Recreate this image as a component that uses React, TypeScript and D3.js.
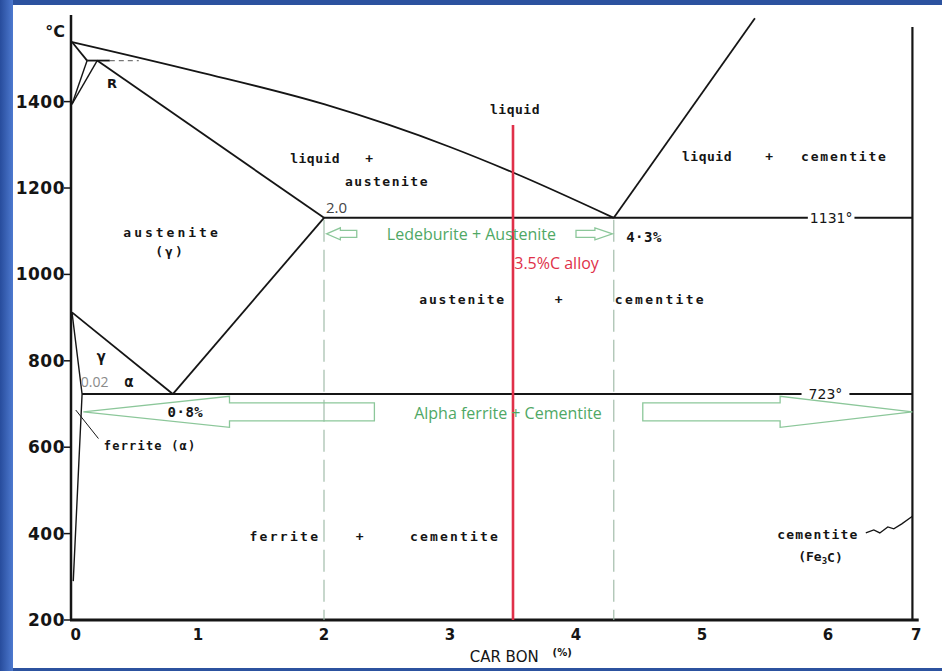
import React from "react";
import * as d3 from "d3";

// ---------- data (carbon %, temperature °C) ----------
const liquidusC = [0, 1.0, 2.0, 3.0, 3.5, 4.3];
const liquidusT = [1538, 1469, 1394, 1295, 1236, 1131];
const hyperLiquidusC = [4.3, 5.42];
const hyperLiquidusT = [1131, 1593];
const solidusC = [0.2, 2.0];
const solidusT = [1495, 1131];
const acmC = [0.8, 2.0];
const acmT = [723, 1131];
const a3C = [0, 0.8];
const a3T = [912, 723];
const ferriteC = [0, 0.08, 0.01];
const ferriteT = [912, 723, 290];
const deltaUpperC = [0, 0.12];
const deltaUpperT = [1538, 1495];
const deltaLowerC = [0, 0.12];
const deltaLowerT = [1394, 1495];
const deltaGammaC = [0, 0.2];
const deltaGammaT = [1394, 1495];
const peritecticSolidC = [0.12, 0.3];
const peritecticDashC = [0.3, 0.53];
const peritecticT = 1495;
const eutecticT = 1131;
const eutecticC = [2.0, 6.67];
const eutecticGapC = [5.84, 6.21];
const eutectoidT = 723;
const eutectoidC = [0.08, 6.67];
const eutectoidGapC = [5.79, 6.17];
const cementiteC = 6.67;
const cementiteTopT = 1573;
const alloyC = 3.5;
const alloyTopT = 1346;
const guideC = [2.0, 4.3];

const yTicks = [200, 400, 600, 800, 1000, 1200, 1400];
const xTicks = [0, 1, 2, 3, 4, 5, 6, 7];

// ---------- layout ----------
const W = 942;
const H = 671;
const x = d3.scaleLinear().domain([0, 7]).range([72, 954]);
const y = d3.scaleLinear().domain([200, 1538]).range([620, 42]);

const BLACK = "#151515";
const GREEN = "#4fa865";
const GREEN_LINE = "#8cc79a";
const RED = "#e03049";
const STENCIL = "'DejaVu Sans Mono', monospace";
const SANS = "'DejaVu Sans', sans-serif";
const CAL = "'Open Sans', 'Liberation Sans', sans-serif";

const line2 = (cs: number[], ts: number[], curve: any = d3.curveLinear) =>
  d3
    .line<number>()
    .x((_, i) => x(cs[i]))
    .y((_, i) => y(ts[i]))
    .curve(curve)(cs) || "";

function arrow(tipC: number, headC: number, endC: number, cT: number, hh: number, bh: number) {
  const yc = y(cT);
  const pts: [number, number][] = [
    [x(tipC), yc],
    [x(headC), yc - hh],
    [x(headC), yc - bh],
    [x(endC), yc - bh],
    [x(endC), yc + bh],
    [x(headC), yc + bh],
    [x(headC), yc + hh],
  ];
  return pts.map((p) => p.join(",")).join(" ");
}

const Stencil = ({ c, t, text, size = 13, ls = 1.8, anchor = "middle" }: any) => (
  <text
    x={x(c)}
    y={y(t)}
    fontFamily={STENCIL}
    fontWeight="bold"
    fontSize={size}
    letterSpacing={ls}
    textAnchor={anchor}
    dominantBaseline="central"
    fill={BLACK}
  >
    {text}
  </text>
);

export default function App() {
  const lineStyle = { stroke: BLACK, strokeWidth: 1.8, fill: "none" };
  const sqX0 = x(6.3);
  const sqY0 = y(397);
  const sqX1 = x(cementiteC);
  const sqY1 = y(440);
  return (
    <svg
      width={W}
      height={H}
      viewBox={`0 0 ${W} ${H}`}
      style={{ position: "absolute", left: 0, top: 0, display: "block" }}
    >
      <defs>
        <linearGradient id="leftBand" x1="0" x2="1" y1="0" y2="0">
          <stop offset="0" stopColor="#274c9c" />
          <stop offset="1" stopColor="#4d79cf" />
        </linearGradient>
      </defs>
      {/* frame */}
      <rect x={0} y={0} width={W} height={H} fill="#2c529f" />
      <rect x={13} y={5} width={W - 13} height={663} fill="#ffffff" />
      <rect x={0} y={0} width={13} height={H} fill="url(#leftBand)" />

      {/* axes */}
      <line x1={x(0) - 1} x2={x(0) - 1} y1={15} y2={y(200)} stroke={BLACK} strokeWidth={2.5} />
      <line x1={x(0) - 2} x2={x(6.72)} y1={y(200)} y2={y(200)} stroke={BLACK} strokeWidth={2.8} />
      {yTicks.map((t) => (
        <g key={t}>
          <line x1={x(0) - 8} x2={x(0)} y1={y(t)} y2={y(t)} stroke={BLACK} strokeWidth={1.5} />
          <text
            x={x(0) - 7}
            y={y(t)}
            textAnchor="end"
            dominantBaseline="central"
            fontFamily={SANS}
            fontWeight="bold"
            fontSize={17}
            letterSpacing={0.5}
            fill={BLACK}
          >
            {t}
          </text>
        </g>
      ))}
      {xTicks.map((c) => (
        <text
          key={c}
          x={x(Math.min(Math.max(c, 0.03), 6.7))}
          y={y(200) + 15}
          textAnchor="middle"
          dominantBaseline="central"
          fontFamily={SANS}
          fontWeight="bold"
          fontSize={15}
          fill={BLACK}
        >
          {c}
        </text>
      ))}
      <text x={x(0) - 7} y={31} textAnchor="end" dominantBaseline="central" fontFamily={SANS} fontWeight="bold" fontSize={16} fill={BLACK}>
        °C
      </text>
      <text x={x(3.43)} y={y(200) + 37} textAnchor="middle" dominantBaseline="central" fontFamily={SANS} fontSize={15} fill={BLACK}>
        CAR BON
      </text>
      <text x={x(3.43) + 58} y={y(200) + 32} textAnchor="middle" dominantBaseline="central" fontFamily={SANS} fontSize={10} fontWeight="bold" fill={BLACK}>
        (%)
      </text>

      {/* guide lines */}
      {guideC.map((c) => (
        <line key={c} x1={x(c)} x2={x(c)} y1={y(eutecticT) + 2} y2={y(200)} stroke="#9ab7a3" strokeWidth={1.1} strokeDasharray="22 8" />
      ))}

      {/* phase boundaries */}
      <path d={line2(liquidusC, liquidusT, d3.curveMonotoneX)} {...lineStyle} />
      <path d={line2(hyperLiquidusC, hyperLiquidusT)} {...lineStyle} />
      <path d={line2(solidusC, solidusT)} {...lineStyle} />
      <path d={line2(acmC, acmT)} {...lineStyle} />
      <path d={line2(a3C, a3T)} {...lineStyle} />
      <path d={line2(ferriteC, ferriteT)} {...lineStyle} strokeWidth={1.4} />
      <path d={line2(deltaUpperC, deltaUpperT)} {...lineStyle} />
      <path d={line2(deltaLowerC, deltaLowerT)} {...lineStyle} strokeWidth={1.4} />
      <path d={line2(deltaGammaC, deltaGammaT)} {...lineStyle} strokeWidth={1.4} />
      <line x1={x(peritecticSolidC[0])} x2={x(peritecticSolidC[1])} y1={y(peritecticT)} y2={y(peritecticT)} stroke={BLACK} strokeWidth={1.8} />
      <line x1={x(peritecticDashC[0])} x2={x(peritecticDashC[1])} y1={y(peritecticT)} y2={y(peritecticT)} stroke="#777" strokeWidth={1.2} strokeDasharray="5 4" />

      {/* isotherms */}
      <line x1={x(eutecticC[0])} x2={x(eutecticGapC[0])} y1={y(eutecticT)} y2={y(eutecticT)} stroke={BLACK} strokeWidth={2} />
      <line x1={x(eutecticGapC[1])} x2={x(eutecticC[1])} y1={y(eutecticT)} y2={y(eutecticT)} stroke={BLACK} strokeWidth={2} />
      <line x1={x(eutectoidC[0])} x2={x(eutectoidGapC[0])} y1={y(eutectoidT)} y2={y(eutectoidT)} stroke={BLACK} strokeWidth={2} />
      <line x1={x(eutectoidGapC[1])} x2={x(eutectoidC[1])} y1={y(eutectoidT)} y2={y(eutectoidT)} stroke={BLACK} strokeWidth={2} />
      <line x1={x(cementiteC)} x2={x(cementiteC)} y1={y(cementiteTopT)} y2={y(200)} stroke={BLACK} strokeWidth={2.2} />

      <text x={(x(eutecticGapC[0]) + x(eutecticGapC[1])) / 2} y={y(eutecticT)} textAnchor="middle" dominantBaseline="central" fontFamily={SANS} fontSize={14} fill={BLACK}>
        1131°
      </text>
      <text x={(x(eutectoidGapC[0]) + x(eutectoidGapC[1])) / 2} y={y(eutectoidT)} textAnchor="middle" dominantBaseline="central" fontFamily={SANS} fontSize={14} fill={BLACK}>
        723°
      </text>

      {/* alloy line */}
      <line x1={x(alloyC)} x2={x(alloyC)} y1={y(alloyTopT)} y2={y(200)} stroke={RED} strokeWidth={2.6} />

      {/* arrows */}
      <polygon points={arrow(0.09, 1.25, 2.4, 682, 15.5, 9)} fill="none" stroke={GREEN_LINE} strokeWidth={1.3} />
      <polygon points={arrow(6.67, 5.62, 4.53, 682, 15.5, 9)} fill="none" stroke={GREEN_LINE} strokeWidth={1.3} />
      <polygon points={arrow(2.02, 2.13, 2.26, 1094, 6, 3.5)} fill="none" stroke={GREEN_LINE} strokeWidth={1.3} />
      <polygon points={arrow(4.29, 4.15, 4.0, 1094, 6, 3.5)} fill="none" stroke={GREEN_LINE} strokeWidth={1.3} />

      {/* leader lines */}
      <line x1={x(0.03)} y1={y(686)} x2={x(0.21)} y2={y(620)} stroke={BLACK} strokeWidth={1} />
      <path
        d={`M${sqX0},${sqY0 - 2} L${sqX0 + 8},${sqY0 - 5} L${sqX0 + 14},${sqY0 - 2} L${sqX0 + 22},${sqY0 - 8} L${sqX0 + 28},${sqY0 - 6} L${sqX0 + 36},${sqY0 - 11} L${sqX1},${sqY1}`}
        fill="none"
        stroke={BLACK}
        strokeWidth={1.3}
      />

      {/* phase labels */}
      <text x={x(0.317)} y={y(1443)} textAnchor="middle" dominantBaseline="central" fontFamily={SANS} fontWeight="bold" fontSize={13} fill={BLACK}>
        R
      </text>
      <Stencil c={3.516} t={1381} text="liquid" ls={0.5} />
      <Stencil c={1.93} t={1269} text="liquid" ls={0.5} />
      <Stencil c={2.365} t={1269} text="+" />
      <Stencil c={2.5} t={1216} text="austenite" ls={1.5} />
      <Stencil c={5.04} t={1272} text="liquid" ls={0.5} />
      <Stencil c={5.54} t={1272} text="+" />
      <Stencil c={6.13} t={1272} text="cementite" ls={1.8} />
      <Stencil c={0.794} t={1098} text="austenite" size={13} ls={3} />
      <Stencil c={0.778} t={1052} text="(γ)" size={13} ls={2} />
      <Stencil c={0.24} t={809} text="γ" size={16} />
      <text x={x(0.07)} y={y(751)} dominantBaseline="central" fontFamily={CAL} fontSize={14} fill="#8a8a8a">
        0.02
      </text>
      <Stencil c={0.46} t={751} text="α" size={15} />
      <Stencil c={0.9} t={681} text="0·8%" size={14} ls={0.5} />
      <Stencil c={0.62} t={603} text="ferrite (α)" size={12} ls={1.2} />
      <text x={x(2.1)} y={y(1156)} textAnchor="middle" dominantBaseline="central" fontFamily={CAL} fontSize={15} fill="#444">
        2.0
      </text>
      <Stencil c={4.54} t={1087} text="4·3%" size={14} ls={0.5} />
      <Stencil c={3.1} t={941} text="austenite" ls={1.8} />
      <Stencil c={3.87} t={941} text="+" />
      <Stencil c={4.67} t={941} text="cementite" ls={2.3} />
      <Stencil c={1.69} t={394} text="ferrite" ls={2.3} />
      <Stencil c={2.29} t={394} text="+" />
      <Stencil c={3.04} t={394} text="cementite" ls={2.2} />
      <Stencil c={5.92} t={397} text="cementite" ls={1.2} />
      <text x={x(5.94)} y={y(346)} textAnchor="middle" dominantBaseline="central" fontFamily={STENCIL} fontWeight="bold" fontSize={13} fill={BLACK}>
        (Fe<tspan fontSize={9} dy={4}>3</tspan>
        <tspan dy={-4}>C)</tspan>
      </text>

      {/* annotations */}
      <text x={x(3.51)} y={y(1026)} dominantBaseline="central" fontFamily={CAL} fontSize={16} fill={RED}>
        3.5%C alloy
      </text>
      <text x={x(3.17)} y={y(1094)} textAnchor="middle" dominantBaseline="central" fontFamily={CAL} fontSize={16} fill={GREEN}>
        Ledeburite + Austenite
      </text>
      <text x={x(3.46)} y={y(680)} textAnchor="middle" dominantBaseline="central" fontFamily={CAL} fontSize={16} fill={GREEN}>
        Alpha ferrite + Cementite
      </text>
    </svg>
  );
}
